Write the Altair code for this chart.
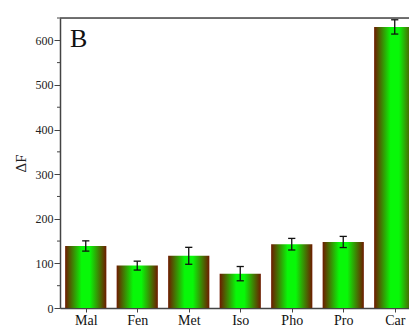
import json
import altair as alt
import pandas as pd

categories = ["Mal", "Fen", "Met", "Iso", "Pho", "Pro", "Car"]
values = [139, 95, 117, 77, 143, 148, 630]
errors = [11.5, 10, 19, 16, 13, 12.5, 16]
y_ticks = [0, 100, 200, 300, 400, 500, 600]
y_minor = [50, 150, 250, 350, 450, 550, 650]

df = pd.DataFrame({
    "idx": list(range(len(categories))),
    "cat": categories,
    "val": values,
    "err": errors,
})
df["zero"] = 0
df["lo"] = df["val"] - df["err"]
df["hi"] = df["val"] + df["err"]
df["x0"] = df["idx"] - 0.4
df["x1"] = df["idx"] + 0.4
df["c0"] = df["idx"] - 0.07
df["c1"] = df["idx"] + 0.07

W, H = 349, 290
FONT = "Liberation Serif"
AX = "#444444"

xscale = alt.Scale(domain=[-0.5, 6.277], nice=False, zero=False)
yscale = alt.Scale(domain=[0, 650], nice=False)

label_expr = json.dumps(categories) + "[datum.value]"

grad = alt.LinearGradient(
    gradient="linear", x1=0, x2=1, y1=0, y2=0,
    stops=[
        alt.GradientStop(offset=0, color="#6e1a00"),
        alt.GradientStop(offset=0.4, color="#08f808"),
        alt.GradientStop(offset=0.6, color="#08f808"),
        alt.GradientStop(offset=1, color="#6e1a00"),
    ],
)

base = alt.Chart(df)

bars = base.mark_rect(color=grad, clip=True).encode(
    x=alt.X("x0:Q", scale=xscale, title=None,
            axis=alt.Axis(values=list(range(len(categories))), labelExpr=label_expr,
                          grid=False, tickSize=4, tickColor=AX, domainColor=AX,
                          domainWidth=1.5, labelFont=FONT, labelFontSize=14,
                          labelColor="#111111", labelPadding=1, labelFlush=False,
                          labelOverlap=False)),
    x2="x1:Q",
    y=alt.Y("val:Q", scale=yscale, title="ΔF",
            axis=alt.Axis(values=y_ticks, grid=False, tickSize=6, tickColor=AX,
                          domainColor=AX, domainWidth=1.5, labelFont=FONT,
                          labelFontSize=12, labelColor="#222222", labelPadding=1,
                          titleFont=FONT, titleFontSize=15, titleFontWeight="normal",
                          titleColor="#222222", titleX=-32, titleY=145,
                          titleAngle=270)),
    y2="zero:Q",
)

err_v = base.mark_rule(color="#111111", strokeWidth=1.3, clip=True).encode(
    x=alt.X("idx:Q", scale=xscale), y=alt.Y("lo:Q", scale=yscale), y2="hi:Q"
)
cap_lo = base.mark_rule(color="#111111", strokeWidth=1.3, clip=True).encode(
    x=alt.X("c0:Q", scale=xscale), x2="c1:Q", y=alt.Y("lo:Q", scale=yscale)
)
cap_hi = base.mark_rule(color="#111111", strokeWidth=1.3, clip=True).encode(
    x=alt.X("c0:Q", scale=xscale), x2="c1:Q", y=alt.Y("hi:Q", scale=yscale)
)

minor = alt.Chart(pd.DataFrame({"m": y_minor})).mark_rule(color=AX, strokeWidth=1).encode(
    y=alt.Y("m:Q", scale=yscale), x=alt.value(-3), x2=alt.value(0)
)

top_line = alt.Chart(pd.DataFrame({"a": [0]})).mark_rule(color=AX, strokeWidth=1.5).encode(
    y=alt.value(0), x=alt.value(0), x2=alt.value(W)
)

letter = alt.Chart(pd.DataFrame({"t": ["B"]})).mark_text(
    font=FONT, fontSize=26, align="left", baseline="alphabetic", color="#111111"
).encode(text="t:N", x=alt.value(10), y=alt.value(29))

chart = alt.layer(bars, err_v, cap_lo, cap_hi, minor, top_line, letter).properties(
    width=W, height=H,
    autosize=alt.AutoSizeParams(type="none"),
    padding={"left": 52, "top": 10, "right": 0, "bottom": 18},
).configure_view(stroke=None).configure(background="white")

chart.save("out.html", embed_options={"renderer": "svg", "actions": False})
